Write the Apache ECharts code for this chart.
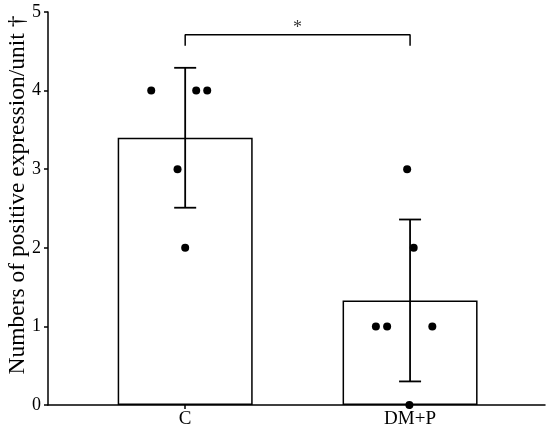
<!DOCTYPE html>
<html>
<head>
<meta charset="utf-8">
<script src="https://cdn.jsdelivr.net/npm/echarts@6/dist/echarts.min.js"></script>
<style>
html,body{margin:0;padding:0;background:#fff;}
#chart{width:550px;height:433px;}
</style>
</head>
<body>
<div id="chart"></div>
<script>
// ---- data ----
var categories = ['C', 'DM+P'];
var categoryPos = [1, 2];
var barMeans = [3.4, 1.33];
var barSD = [0.89, 1.03];
// individual points: [x position (jittered around category), value]
var pointsC = [[0.849, 4], [1.049, 4], [1.098, 4], [0.966, 3], [1.0, 2]];
var pointsDMP = [[1.987, 3], [2.016, 2], [1.848, 1], [1.898, 1], [2.099, 1], [1.997, 0]];
var bracketLow = 4.57;
var bracketHigh = 4.71;
var sigLabel = '*';
var yTicks = [0, 1, 2, 3, 4, 5];
var yTitle = 'Numbers of positive expression/unit \u2020';

var font = '"Liberation Serif", serif';
var chart = echarts.init(document.getElementById('chart'));

var barData = categoryPos.map(function (x, i) { return [x, barMeans[i]]; });
var errData = categoryPos.map(function (x, i) { return [x, barMeans[i] - barSD[i], barMeans[i] + barSD[i]]; });
var bracketData = [[categoryPos[0], bracketLow], [categoryPos[0], bracketHigh], [categoryPos[1], bracketHigh], [categoryPos[1], bracketLow]];

chart.setOption({
  animation: false,
  grid: { left: 48, right: 5, top: 12, bottom: 28 },
  xAxis: {
    type: 'value',
    min: 0.39, max: 2.6,
    axisLine: { show: true, lineStyle: { color: '#000', width: 1.5 } },
    axisTick: { show: true, length: 4, customValues: categoryPos, lineStyle: { color: '#000', width: 1.5 } },
    axisLabel: {
      customValues: categoryPos,
      formatter: function (v) { var i = categoryPos.indexOf(v); return i >= 0 ? categories[i] : ''; },
      color: '#000', fontFamily: font, fontSize: 19, margin: 5
    },
    splitLine: { show: false }
  },
  yAxis: {
    type: 'value',
    min: yTicks[0], max: yTicks[yTicks.length - 1], interval: 1,
    axisLine: { show: true, lineStyle: { color: '#000', width: 1.5 } },
    axisTick: { show: true, length: 4, lineStyle: { color: '#000', width: 1.5 } },
    axisLabel: { color: '#000', fontFamily: font, fontSize: 18, margin: 7 },
    splitLine: { show: false }
  },
  graphic: [{
    type: 'text',
    x: 6, y: 195,
    rotation: Math.PI / 2,
    style: {
      text: yTitle,
      fontFamily: font, fontSize: 23.5, fill: '#000',
      align: 'center', verticalAlign: 'top'
    }
  }],
  series: [
    {
      type: 'bar',
      data: barData,
      barWidth: 135,
      itemStyle: { color: '#fff', borderColor: '#000', borderWidth: 1.5 },
      z: 1
    },
    {
      type: 'custom',
      data: errData,
      z: 3,
      renderItem: function (params, api) {
        var x = api.value(0);
        var lo = api.coord([x, api.value(1)]);
        var hi = api.coord([x, api.value(2)]);
        var hw = 11;
        var style = { stroke: '#000', lineWidth: 1.8 };
        return {
          type: 'group',
          children: [
            { type: 'line', shape: { x1: hi[0], y1: hi[1], x2: lo[0], y2: lo[1] }, style: style },
            { type: 'line', shape: { x1: hi[0] - hw, y1: hi[1], x2: hi[0] + hw, y2: hi[1] }, style: style },
            { type: 'line', shape: { x1: lo[0] - hw, y1: lo[1], x2: lo[0] + hw, y2: lo[1] }, style: style }
          ]
        };
      }
    },
    {
      type: 'scatter',
      data: pointsC.concat(pointsDMP),
      symbol: 'circle',
      symbolSize: 8,
      itemStyle: { color: '#000', opacity: 1 },
      z: 4
    },
    {
      type: 'line',
      data: bracketData,
      symbol: 'none',
      lineStyle: { color: '#000', width: 1.5 },
      z: 4
    },
    {
      type: 'scatter',
      data: [[(categoryPos[0] + categoryPos[1]) / 2, bracketHigh]],
      symbolSize: 1,
      itemStyle: { color: 'rgba(0,0,0,0)' },
      label: {
        show: true, position: 'top', distance: -3,
        formatter: sigLabel,
        color: '#000', fontFamily: font, fontSize: 18
      },
      z: 4
    }
  ]
});
</script>
</body>
</html>
